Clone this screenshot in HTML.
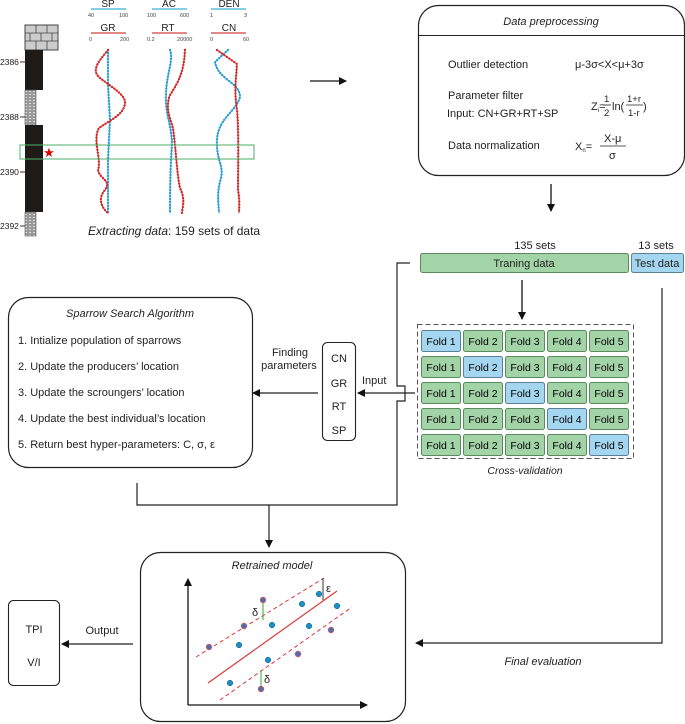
<!DOCTYPE html>
<html><head><meta charset="utf-8"><style>
html,body{margin:0;padding:0;background:#fff;}
svg{display:block;font-family:"Liberation Sans",sans-serif;}
</style></head><body>
<svg width="685" height="724" viewBox="0 0 685 724" xmlns="http://www.w3.org/2000/svg">
<defs>
<marker id="ah" markerWidth="8" markerHeight="8" refX="7" refY="4" orient="auto" markerUnits="userSpaceOnUse"><path d="M0,0 L8,4 L0,8 Z" fill="#111"/></marker>
<pattern id="gd" width="4" height="3" patternUnits="userSpaceOnUse"><rect width="4" height="3" fill="#999"/><rect x="1" y="1" width="2" height="1" fill="#ddd"/></pattern>
</defs>
<g font-size="8.5" fill="#222">
<text x="0" y="65">2386</text><text x="0" y="120">2388</text><text x="0" y="175">2390</text><text x="0" y="229">2392</text>
</g>
<g stroke="#333" stroke-width="1"><line x1="20" y1="62" x2="25" y2="62"/><line x1="20" y1="117" x2="25" y2="117"/><line x1="20" y1="172" x2="25" y2="172"/><line x1="20" y1="226" x2="25" y2="226"/></g>
<rect x="25" y="25" width="33" height="25" fill="#ccc" stroke="#444" stroke-width="1"/>
<g stroke="#444" stroke-width="0.8"><line x1="25" y1="33" x2="58" y2="33"/><line x1="25" y1="41" x2="58" y2="41"/><line x1="36" y1="25" x2="36" y2="33"/><line x1="47" y1="25" x2="47" y2="33"/><line x1="30" y1="33" x2="30" y2="41"/><line x1="41" y1="33" x2="41" y2="41"/><line x1="52" y1="33" x2="52" y2="41"/><line x1="36" y1="41" x2="36" y2="50"/><line x1="47" y1="41" x2="47" y2="50"/></g>
<rect x="25" y="50" width="18" height="40" fill="#1e1a17"/>
<rect x="25" y="90" width="11" height="35" fill="url(#gd)" stroke="#555" stroke-width="0.6"/>
<rect x="25" y="125" width="18" height="87" fill="#1e1a17"/>
<rect x="25" y="212" width="11" height="24" fill="url(#gd)" stroke="#555" stroke-width="0.6"/>
<g font-size="10" fill="#222" text-anchor="middle">
<text x="108" y="7">SP</text><text x="169" y="7">AC</text><text x="229" y="7">DEN</text>
<text x="108" y="31">GR</text><text x="168" y="31">RT</text><text x="229" y="31">CN</text>
</g>
<g stroke-width="1.3"><line x1="91" y1="9" x2="126" y2="9" stroke="#3ab0d8"/><line x1="152" y1="9" x2="187" y2="9" stroke="#3ab0d8"/><line x1="211" y1="9" x2="246" y2="9" stroke="#3ab0d8"/>
<line x1="91" y1="33" x2="126" y2="33" stroke="#d04040"/><line x1="152" y1="33" x2="187" y2="33" stroke="#d04040"/><line x1="211" y1="33" x2="246" y2="33" stroke="#d04040"/></g>
<g font-size="5.5" fill="#444">
<text x="88" y="17">40</text><text x="119" y="17">100</text><text x="147" y="17">100</text><text x="180" y="17">600</text><text x="210" y="17">1</text><text x="244" y="17">3</text>
<text x="89" y="41">0</text><text x="120" y="41">200</text><text x="147" y="41">0.2</text><text x="177" y="41">20000</text><text x="210" y="41">0</text><text x="243" y="41">60</text>
</g>
<g fill="none" stroke-linecap="round">
<g stroke="#2a9fd6"><path d="M108,50 L108,85 L110,120 L108,160 L108,213" stroke-width="1"/><path d="M108,50 L108,85 L110,120 L108,160 L108,213" stroke-width="2.4" stroke-dasharray="0 3"/>
<path d="M170,50 C174,60 166,75 166,95 C165,115 172,125 172,145 C170,170 170,200 170,213" stroke-width="1"/><path d="M170,50 C174,60 166,75 166,95 C165,115 172,125 172,145 C170,170 170,200 170,213" stroke-width="2.4" stroke-dasharray="0 3"/>
<path d="M228,50 L215,62 C218,80 240,82 240,97 C236,112 218,118 217,140 C216,160 224,165 221,178 C216,195 219,205 219,213" stroke-width="1"/><path d="M228,50 L215,62 C218,80 240,82 240,97 C236,112 218,118 217,140 C216,160 224,165 221,178 C216,195 219,205 219,213" stroke-width="2.4" stroke-dasharray="0 3"/></g>
<g stroke="#d42a2a"><path d="M108,50 C100,60 90,70 100,78 C110,86 126,95 125,103 C124,115 110,120 99,128 C92,140 102,160 98,170 C100,180 112,180 105,190 C96,200 104,210 108,213" stroke-width="1"/><path d="M108,50 C100,60 90,70 100,78 C110,86 126,95 125,103 C124,115 110,120 99,128 C92,140 102,160 98,170 C100,180 112,180 105,190 C96,200 104,210 108,213" stroke-width="2.4" stroke-dasharray="0 3"/>
<path d="M185,50 C184,70 180,80 170,95 C165,108 170,118 173,128 C176,150 177,175 180,188 C186,200 182,208 182,213" stroke-width="1"/><path d="M185,50 C184,70 180,80 170,95 C165,108 170,118 173,128 C176,150 177,175 180,188 C186,200 182,208 182,213" stroke-width="2.4" stroke-dasharray="0 3"/>
<path d="M217,50 L237,64 C236,80 234,90 237,110 C239,130 238,170 238,190 C240,200 239,208 239,213" stroke-width="1"/><path d="M217,50 L237,64 C236,80 234,90 237,110 C239,130 238,170 238,190 C240,200 239,208 239,213" stroke-width="2.4" stroke-dasharray="0 3"/></g>
</g>
<rect x="20" y="145" width="234" height="14" fill="none" stroke="#4caf6a" stroke-width="1"/>
<text x="49" y="157" font-size="13" fill="#d00" text-anchor="middle">★</text>
<text x="88" y="235" font-size="12" fill="#222"><tspan font-style="italic">Extracting data</tspan>: 159 sets of data</text>
<line x1="310" y1="81" x2="346" y2="81" stroke="#111" stroke-width="1.3" marker-end="url(#ah)"/>
<!-- preprocessing -->
<rect x="418.5" y="5.5" width="266" height="170" rx="20" fill="none" stroke="#222" stroke-width="1.2"/>
<line x1="418.5" y1="35.5" x2="684.5" y2="35.5" stroke="#222" stroke-width="1"/>
<g font-size="11" fill="#222">
<text x="551" y="25" text-anchor="middle" font-style="italic">Data preprocessing</text>
<text x="448" y="68">Outlier detection</text>
<text x="575" y="68">μ-3σ&lt;X&lt;μ+3σ</text>
<text x="448" y="99">Parameter filter</text>
<text x="447" y="117">Input: CN+GR+RT+SP</text>
<text x="591" y="110">Z<tspan font-size="6" dy="2">i</tspan><tspan dy="-2">=</tspan></text>
<text x="604" y="102" font-size="9.5">1</text><line x1="603" y1="105" x2="611" y2="105" stroke="#222" stroke-width="0.8"/><text x="604" y="116" font-size="9.5">2</text>
<text x="612" y="110">ln(</text>
<text x="627" y="102" font-size="9.5">1+r</text><line x1="626" y1="105" x2="643" y2="105" stroke="#222" stroke-width="0.8"/><text x="628" y="116" font-size="9.5">1-r</text>
<text x="643" y="110">)</text>
<text x="448" y="149">Data normalization</text>
<text x="575" y="150">X<tspan font-size="6" dy="2">n</tspan><tspan dy="-2">=</tspan></text>
<text x="604" y="142">X-μ</text><line x1="600" y1="146" x2="626" y2="146" stroke="#222" stroke-width="0.8"/><text x="609" y="159">σ</text>
</g>
<line x1="551" y1="184" x2="551" y2="211" stroke="#111" stroke-width="1.3" marker-end="url(#ah)"/>
<g font-size="11" fill="#222" text-anchor="middle"><text x="535" y="249">135 sets</text><text x="656" y="249">13 sets</text></g>
<rect x="420.5" y="253.5" width="208" height="19" rx="2" fill="#a3d4a7" stroke="#5a8a5e"/>
<rect x="631.5" y="253.5" width="52" height="19" rx="2" fill="#a5d6f0" stroke="#5a7f96"/>
<g font-size="11" fill="#222" text-anchor="middle"><text x="524" y="267">Traning data</text><text x="657" y="267">Test data</text></g>
<line x1="522" y1="280" x2="522" y2="319" stroke="#111" stroke-width="1.3" marker-end="url(#ah)"/>
<rect x="417.5" y="324.5" width="216" height="134" fill="none" stroke="#555" stroke-width="1" stroke-dasharray="5 3"/>
<g font-size="10.5" text-anchor="middle">
<g>
<rect x="421.5" y="330.5" width="39" height="21" rx="2" fill="#a5d6f0" stroke="#5a7f96"/><rect x="463.5" y="330.5" width="39" height="21" rx="2" fill="#a3d4a7" stroke="#5a8a5e"/><rect x="505.5" y="330.5" width="39" height="21" rx="2" fill="#a3d4a7" stroke="#5a8a5e"/><rect x="547.5" y="330.5" width="39" height="21" rx="2" fill="#a3d4a7" stroke="#5a8a5e"/><rect x="589.5" y="330.5" width="39" height="21" rx="2" fill="#a3d4a7" stroke="#5a8a5e"/>
<text x="441" y="345">Fold 1</text><text x="483" y="345">Fold 2</text><text x="525" y="345">Fold 3</text><text x="567" y="345">Fold 4</text><text x="609" y="345">Fold 5</text>
</g>
<g>
<rect x="421.5" y="356.5" width="39" height="21" rx="2" fill="#a3d4a7" stroke="#5a8a5e"/><rect x="463.5" y="356.5" width="39" height="21" rx="2" fill="#a5d6f0" stroke="#5a7f96"/><rect x="505.5" y="356.5" width="39" height="21" rx="2" fill="#a3d4a7" stroke="#5a8a5e"/><rect x="547.5" y="356.5" width="39" height="21" rx="2" fill="#a3d4a7" stroke="#5a8a5e"/><rect x="589.5" y="356.5" width="39" height="21" rx="2" fill="#a3d4a7" stroke="#5a8a5e"/>
<text x="441" y="371">Fold 1</text><text x="483" y="371">Fold 2</text><text x="525" y="371">Fold 3</text><text x="567" y="371">Fold 4</text><text x="609" y="371">Fold 5</text>
</g>
<g>
<rect x="421.5" y="382.5" width="39" height="21" rx="2" fill="#a3d4a7" stroke="#5a8a5e"/><rect x="463.5" y="382.5" width="39" height="21" rx="2" fill="#a3d4a7" stroke="#5a8a5e"/><rect x="505.5" y="382.5" width="39" height="21" rx="2" fill="#a5d6f0" stroke="#5a7f96"/><rect x="547.5" y="382.5" width="39" height="21" rx="2" fill="#a3d4a7" stroke="#5a8a5e"/><rect x="589.5" y="382.5" width="39" height="21" rx="2" fill="#a3d4a7" stroke="#5a8a5e"/>
<text x="441" y="397">Fold 1</text><text x="483" y="397">Fold 2</text><text x="525" y="397">Fold 3</text><text x="567" y="397">Fold 4</text><text x="609" y="397">Fold 5</text>
</g>
<g>
<rect x="421.5" y="408.5" width="39" height="21" rx="2" fill="#a3d4a7" stroke="#5a8a5e"/><rect x="463.5" y="408.5" width="39" height="21" rx="2" fill="#a3d4a7" stroke="#5a8a5e"/><rect x="505.5" y="408.5" width="39" height="21" rx="2" fill="#a3d4a7" stroke="#5a8a5e"/><rect x="547.5" y="408.5" width="39" height="21" rx="2" fill="#a5d6f0" stroke="#5a7f96"/><rect x="589.5" y="408.5" width="39" height="21" rx="2" fill="#a3d4a7" stroke="#5a8a5e"/>
<text x="441" y="423">Fold 1</text><text x="483" y="423">Fold 2</text><text x="525" y="423">Fold 3</text><text x="567" y="423">Fold 4</text><text x="609" y="423">Fold 5</text>
</g>
<g>
<rect x="421.5" y="434.5" width="39" height="21" rx="2" fill="#a3d4a7" stroke="#5a8a5e"/><rect x="463.5" y="434.5" width="39" height="21" rx="2" fill="#a3d4a7" stroke="#5a8a5e"/><rect x="505.5" y="434.5" width="39" height="21" rx="2" fill="#a3d4a7" stroke="#5a8a5e"/><rect x="547.5" y="434.5" width="39" height="21" rx="2" fill="#a3d4a7" stroke="#5a8a5e"/><rect x="589.5" y="434.5" width="39" height="21" rx="2" fill="#a5d6f0" stroke="#5a7f96"/>
<text x="441" y="449">Fold 1</text><text x="483" y="449">Fold 2</text><text x="525" y="449">Fold 3</text><text x="567" y="449">Fold 4</text><text x="609" y="449">Fold 5</text>
</g>
</g>
<text x="525" y="474" font-size="10.5" font-style="italic" fill="#222" text-anchor="middle">Cross-validation</text>
<g fill="none" stroke="#222" stroke-width="1.2">
<path d="M410,263 L397,263 L397,386 L405,386 L405,401 L397,401 L397,505 L137,505 L137,483"/>
<path d="M662,288 L662,643 L416,643" marker-end="url(#ah)"/>
<line x1="269" y1="505" x2="269" y2="547" marker-end="url(#ah)"/>
<line x1="415" y1="393" x2="358" y2="393" marker-end="url(#ah)"/>
<line x1="318" y1="393" x2="253" y2="393" marker-end="url(#ah)"/>
<line x1="133" y1="644" x2="62" y2="644" marker-end="url(#ah)"/>
</g>
<text x="362" y="384" font-size="11" fill="#222">Input</text>
<text x="290" y="356" font-size="11" fill="#222" text-anchor="middle">Finding</text>
<text x="289" y="369" font-size="11" fill="#222" text-anchor="middle">parameters</text>
<text x="543" y="665" font-size="11" font-style="italic" fill="#222" text-anchor="middle">Final evaluation</text>
<text x="102" y="634" font-size="11" fill="#222" text-anchor="middle">Output</text>
<rect x="322.5" y="342.5" width="33" height="98" rx="5" fill="none" stroke="#222" stroke-width="1.1"/>
<g font-size="11" fill="#222" text-anchor="middle"><text x="339" y="362">CN</text><text x="339" y="387">GR</text><text x="339" y="410">RT</text><text x="339" y="434">SP</text></g>
<rect x="8.5" y="297.5" width="244" height="170" rx="20" fill="none" stroke="#222" stroke-width="1.2"/>
<g font-size="11" fill="#222">
<text x="130" y="317" text-anchor="middle" font-style="italic">Sparrow Search Algorithm</text>
<text x="18" y="344">1. Intialize population of sparrows</text>
<text x="18" y="370">2. Update the producers’ location</text>
<text x="18" y="396">3. Update the scroungers’ location</text>
<text x="18" y="422">4. Update the best individual’s location</text>
<text x="18" y="448">5. Return best hyper-parameters: C, σ, ε</text>
</g>
<rect x="8.5" y="600.5" width="51" height="85" rx="5" fill="none" stroke="#222" stroke-width="1.1"/>
<g font-size="11" fill="#222" text-anchor="middle"><text x="34" y="633">TPI</text><text x="34" y="666">V/I</text></g>
<rect x="140.5" y="552.5" width="265" height="169" rx="20" fill="none" stroke="#222" stroke-width="1.2"/>
<text x="272" y="569" font-size="11" font-style="italic" fill="#222" text-anchor="middle">Retrained model</text>
<g stroke="#111" stroke-width="1.3" fill="none">
<line x1="188" y1="705" x2="188" y2="579" marker-end="url(#ah)"/>
<line x1="188" y1="705" x2="367" y2="705" marker-end="url(#ah)"/>
</g>
<line x1="208" y1="683" x2="337" y2="591" stroke="#d83a3a" stroke-width="1.2"/>
<line x1="196" y1="657" x2="324" y2="578" stroke="#d83a3a" stroke-width="1" stroke-dasharray="4 3"/>
<line x1="220" y1="700" x2="352" y2="607" stroke="#d83a3a" stroke-width="1" stroke-dasharray="4 3"/>
<line x1="323" y1="578" x2="323" y2="600" stroke="#333" stroke-width="1"/>
<line x1="263" y1="602" x2="263" y2="620" stroke="#3a3" stroke-width="1"/>
<line x1="261" y1="670" x2="261" y2="687" stroke="#3a3" stroke-width="1"/>
<g font-size="11" fill="#222"><text x="326" y="592">ε</text><text x="252" y="616">δ</text><text x="264" y="683">δ</text></g>
<g stroke="#d85a5a" stroke-width="0.8" fill="#4a6fb0">
<circle cx="209" cy="647" r="2.8"/><circle cx="244" cy="626" r="2.8"/><circle cx="263" cy="600" r="2.8"/><circle cx="261" cy="689" r="2.8"/><circle cx="298" cy="654" r="2.8"/><circle cx="331" cy="630" r="2.8"/>
</g>
<g fill="#1b8fc6" stroke="#0b5a80" stroke-width="0.5">
<circle cx="239" cy="645" r="2.8"/><circle cx="272" cy="625" r="2.8"/><circle cx="302" cy="604" r="2.8"/><circle cx="309" cy="626" r="2.8"/><circle cx="319" cy="594" r="2.8"/><circle cx="337" cy="606" r="2.8"/><circle cx="230" cy="683" r="2.8"/><circle cx="268" cy="660" r="2.8"/>
</g>
</svg>
</body></html>
